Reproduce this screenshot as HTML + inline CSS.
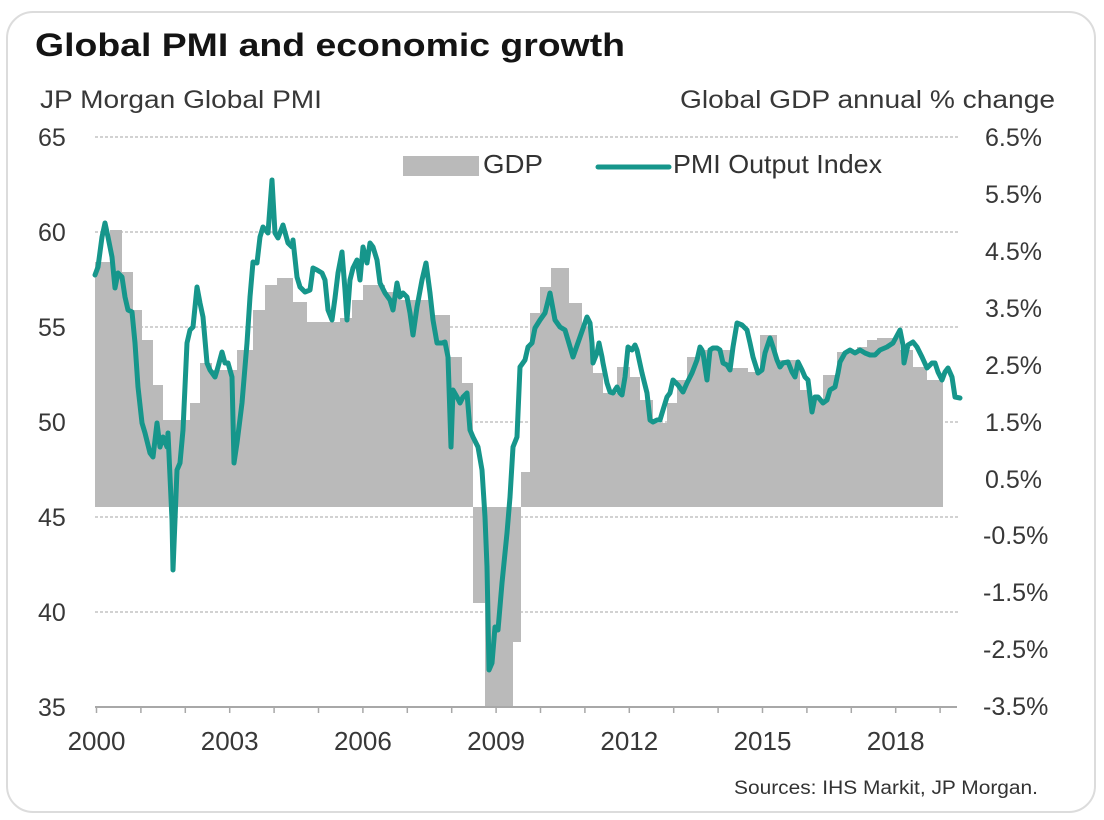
<!DOCTYPE html>
<html>
<head>
<meta charset="utf-8">
<style>
  html,body{margin:0;padding:0;background:#fff;}
  svg{display:block;}
  text{font-family:"Liberation Sans",Arial,sans-serif;}
</style>
</head>
<body>
<svg width="1104" height="820" viewBox="0 0 1104 820" xmlns="http://www.w3.org/2000/svg">
  <rect x="0" y="0" width="1104" height="820" fill="#fff"/>
  <rect x="7" y="12" width="1088" height="800" rx="26" ry="26" fill="#fff" stroke="#dcdcdc" stroke-width="2"/>

  <!-- Title -->
  <text x="35" y="56" font-size="32" font-weight="bold" fill="#141414" textLength="590" lengthAdjust="spacingAndGlyphs">Global PMI and economic growth</text>

  <!-- Axis titles -->
  <text x="40" y="108" font-size="25" fill="#383838" textLength="282" lengthAdjust="spacingAndGlyphs">JP Morgan Global  PMI</text>
  <text x="680" y="108" font-size="25" fill="#383838" textLength="375" lengthAdjust="spacingAndGlyphs">Global  GDP annual % change</text>

  <!-- Gridlines -->
  <g stroke="#c4c4c4" stroke-width="1.6" stroke-dasharray="3 2">
    <line x1="95" y1="137" x2="958" y2="137"/>
    <line x1="95" y1="232" x2="958" y2="232"/>
    <line x1="95" y1="327" x2="958" y2="327"/>
    <line x1="95" y1="422" x2="958" y2="422"/>
    <line x1="95" y1="517" x2="958" y2="517"/>
    <line x1="95" y1="612" x2="958" y2="612"/>
  </g>

  <!-- GDP bars (step area) -->
  <path fill="#bababa" d="M95,507 L95,262 L110,262 L110,230 L122,230 L122,272 L133,272 L133,310 L142,310 L142,340 L153,340 L153,385 L163,385 L163,420 L190,420 L190,403 L200,403 L200,363 L212,363 L212,370 L237,370 L237,350 L253,350 L253,310 L265,310 L265,285 L277,285 L277,278 L293,278 L293,302 L307,302 L307,322 L340,322 L340,318 L352,318 L352,300 L363,300 L363,285 L385,285 L385,292 L400,292 L400,300 L433,300 L433,315 L450,315 L450,357 L462,357 L462,383 L473,383 L473,603 L485,603 L485,706 L513,706 L513,642 L521,642 L521,472 L530,472 L530,313 L540,313 L540,287 L551,287 L551,268 L569,268 L569,303 L582,303 L582,327 L593,327 L593,373 L603,373 L603,393 L617,393 L617,367 L630,367 L630,377 L640,377 L640,400 L653,400 L653,423 L667,423 L667,403 L677,403 L677,380 L687,380 L687,357 L700,357 L700,350 L730,350 L730,368 L748,368 L748,372 L760,372 L760,335 L777,335 L777,360 L800,360 L800,390 L808,390 L808,400 L823,400 L823,375 L837,375 L837,352 L857,352 L857,347 L867,347 L867,340 L877,340 L877,338 L900,338 L900,350 L913,350 L913,367 L927,367 L927,380 L943,380 L943,507 Z"/>

  <!-- X axis -->
  <line x1="95" y1="707" x2="957" y2="707" stroke="#a8a8a8" stroke-width="2"/>
  <g stroke="#a8a8a8" stroke-width="1.5">
    <line x1="96.5" y1="707" x2="96.5" y2="713"/>
    <line x1="140.9" y1="707" x2="140.9" y2="713"/>
    <line x1="185.3" y1="707" x2="185.3" y2="713"/>
    <line x1="229.7" y1="707" x2="229.7" y2="713"/>
    <line x1="274.1" y1="707" x2="274.1" y2="713"/>
    <line x1="318.5" y1="707" x2="318.5" y2="713"/>
    <line x1="362.9" y1="707" x2="362.9" y2="713"/>
    <line x1="407.3" y1="707" x2="407.3" y2="713"/>
    <line x1="451.7" y1="707" x2="451.7" y2="713"/>
    <line x1="496.1" y1="707" x2="496.1" y2="713"/>
    <line x1="540.5" y1="707" x2="540.5" y2="713"/>
    <line x1="584.9" y1="707" x2="584.9" y2="713"/>
    <line x1="629.3" y1="707" x2="629.3" y2="713"/>
    <line x1="673.7" y1="707" x2="673.7" y2="713"/>
    <line x1="718.1" y1="707" x2="718.1" y2="713"/>
    <line x1="762.5" y1="707" x2="762.5" y2="713"/>
    <line x1="806.9" y1="707" x2="806.9" y2="713"/>
    <line x1="851.3" y1="707" x2="851.3" y2="713"/>
    <line x1="895.7" y1="707" x2="895.7" y2="713"/>
    <line x1="940.1" y1="707" x2="940.1" y2="713"/>
  </g>

  <!-- PMI line -->
  <polyline fill="none" stroke="#16968b" stroke-width="5" stroke-linejoin="round" stroke-linecap="round" points="95,275 98,267 102,237 105,223 108,237 112,257 115,288 118,273 122,277 125,297 128,310 132,312 135,343 138,387 142,423 145,433 150,453 153,457 157,423 160,447 163,437 167,447 168,433 172,520 173,570 175,520 177,470 180,463 183,430 187,343 190,330 193,327 197,287 200,303 203,317 207,363 210,370 215,377 218,367 222,352 225,363 228,363 232,377 234,463 237,443 242,403 247,343 250,297 253,262 257,263 260,237 263,227 268,233 272,180 275,233 278,238 283,225 288,243 292,247 293,240 297,277 300,287 305,292 310,290 313,268 317,270 322,273 325,280 328,310 332,320 335,298 338,273 342,252 345,290 347,320 350,280 353,268 357,260 360,280 363,247 367,263 370,243 373,247 377,260 380,283 385,293 390,300 393,310 397,283 400,297 403,293 407,297 410,313 413,335 417,307 422,280 426,263 430,293 433,320 437,343 442,343 445,342 448,357 451,447 453,390 457,397 460,403 463,397 467,393 470,430 473,437 478,447 482,470 485,517 487,567 488,617 489,670 492,663 495,627 498,630 502,583 507,533 510,497 513,447 517,437 520,367 525,360 528,347 532,343 535,328 540,320 545,313 550,293 555,320 560,327 565,330 568,340 573,357 580,337 587,317 590,323 592,343 593,363 597,353 599,343 602,357 603,363 607,383 610,392 613,393 617,387 620,393 622,395 625,377 628,347 632,350 635,345 637,350 642,373 647,393 650,420 653,422 657,420 660,420 663,410 667,397 670,393 673,380 678,385 683,392 687,383 692,373 697,360 700,347 702,350 703,353 707,380 710,350 713,348 717,348 720,350 723,363 727,365 730,370 733,347 737,323 742,325 747,330 750,343 753,357 758,373 762,370 765,353 770,338 773,347 777,360 780,367 783,363 788,362 792,372 795,377 798,362 802,370 805,377 808,380 812,412 815,397 818,397 823,403 827,400 830,390 835,387 838,373 840,362 845,353 850,350 855,353 860,350 865,353 870,355 875,355 880,350 887,347 893,343 900,330 903,345 904,363 908,345 913,342 917,347 922,357 927,368 932,363 935,363 938,372 942,380 945,372 948,368 952,377 955,397 960,398"/>

  <!-- Legend -->
  <rect x="403" y="156" width="76" height="20" fill="#bababa"/>
  <text x="483" y="173" font-size="26" fill="#333" textLength="60" lengthAdjust="spacingAndGlyphs">GDP</text>
  <line x1="598" y1="167" x2="669" y2="167" stroke="#16968b" stroke-width="5" stroke-linecap="round"/>
  <text x="673" y="173" font-size="26" fill="#333" textLength="209" lengthAdjust="spacingAndGlyphs">PMI Output Index</text>

  <!-- Left axis labels -->
  <g font-size="25" fill="#383838">
    <text x="38" y="146">65</text>
    <text x="38" y="241">60</text>
    <text x="38" y="336">55</text>
    <text x="38" y="431">50</text>
    <text x="38" y="526">45</text>
    <text x="38" y="621">40</text>
    <text x="38" y="716">35</text>
  </g>

  <!-- Right axis labels -->
  <g font-size="25" fill="#383838">
    <text x="985" y="146">6.5%</text>
    <text x="985" y="203">5.5%</text>
    <text x="985" y="260">4.5%</text>
    <text x="985" y="317">3.5%</text>
    <text x="985" y="374">2.5%</text>
    <text x="985" y="431">1.5%</text>
    <text x="985" y="488">0.5%</text>
    <text x="983" y="544">-0.5%</text>
    <text x="983" y="601">-1.5%</text>
    <text x="983" y="658">-2.5%</text>
    <text x="983" y="715">-3.5%</text>
  </g>

  <!-- X axis labels -->
  <g font-size="26" fill="#383838" text-anchor="middle">
    <text x="96.5" y="750">2000</text>
    <text x="229.7" y="750">2003</text>
    <text x="362.9" y="750">2006</text>
    <text x="496.1" y="750">2009</text>
    <text x="629.3" y="750">2012</text>
    <text x="762.5" y="750">2015</text>
    <text x="895.7" y="750">2018</text>
  </g>

  <!-- Source -->
  <text x="734" y="794" font-size="19" fill="#333" textLength="304" lengthAdjust="spacingAndGlyphs">Sources: IHS Markit, JP Morgan.</text>
</svg>
</body>
</html>
